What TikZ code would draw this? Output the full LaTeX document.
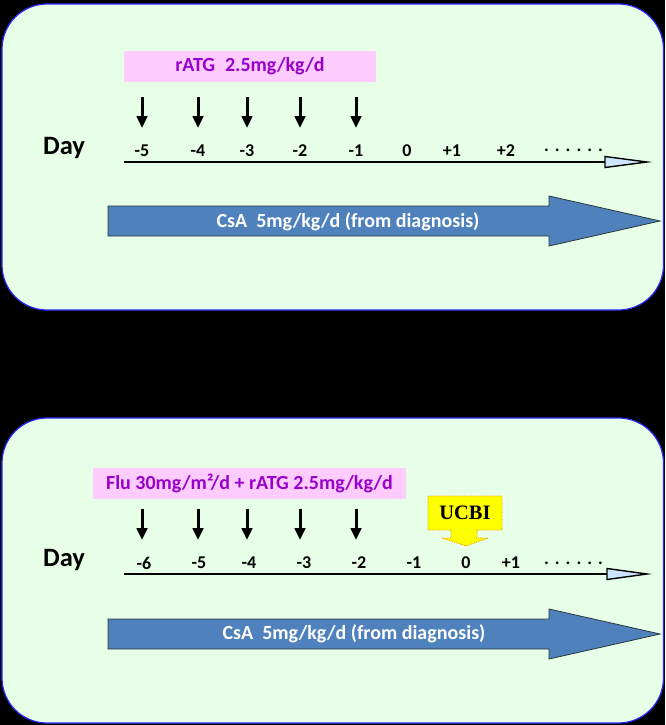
\documentclass[tikz,border=0pt]{standalone}
\usepackage{fontspec}
\setmainfont{Carlito}
\newfontfamily\ucbifont{Liberation Serif}
\usetikzlibrary{arrows.meta}
\definecolor{panelfill}{RGB}{230,255,230}
\definecolor{panelborder}{RGB}{40,40,255}
\definecolor{pinkbox}{RGB}{255,204,255}
\definecolor{purpletext}{RGB}{153,0,204}
\definecolor{csablue}{RGB}{79,129,189}
\definecolor{csaborder}{RGB}{45,55,65}
\definecolor{headblue}{RGB}{204,230,255}
\definecolor{ucbiyellow}{RGB}{255,255,0}
\definecolor{ucbiorange}{RGB}{255,140,0}
\tikzset{
  panel/.style={fill=panelfill,draw=panelborder,line width=1.2pt,rounded corners=45pt},
  dosebox/.style={fill=pinkbox,draw=none,inner sep=0pt,text=purpletext,font=\fontsize{20}{24}\selectfont\bfseries},
  daylabel/.style={font=\fontsize{26.5}{30}\selectfont\bfseries,inner sep=0pt},
  ticklabel/.style={font=\fontsize{18}{21}\selectfont\bfseries,inner sep=0pt},
  dotlabel/.style={font=\fontsize{18}{21}\selectfont\bfseries,inner sep=0pt,anchor=base},
  doseline/.style={line width=3pt,-{Triangle[length=12pt,width=10.5pt]}},
  timeline/.style={line width=2pt},
  timehead/.style={fill=headblue,draw=black,line width=1.4pt,line join=miter},
  csaarrow/.style={fill=csablue,draw=csaborder,line width=0.8pt},
  csatext/.style={text=white,font=\fontsize{20}{24}\selectfont\bfseries,inner sep=0pt},
  ucbishape/.style={fill=ucbiyellow,draw=ucbiorange,densely dotted,line width=0.8pt},
  ucbitext/.style={font=\ucbifont\fontsize{20.5}{24}\selectfont\bfseries,inner sep=0pt},
}
\newcommand{\sixdots}{.\kern6pt.\kern6pt.\kern6pt.\kern6pt.\kern6pt.}
\begin{document}
\begin{tikzpicture}[x=1pt,y=-1pt]
\fill[black] (0,0) rectangle (665,725);
\useasboundingbox (0,0) rectangle (665,725);

% ---------- Panel 1 ----------
\draw[panel] (2,4) rectangle (663.5,310);
\node[dosebox,minimum width=252pt,minimum height=31pt] (dose1) at (250,66.5) {rATG\hspace{10pt}2.5mg/kg/d};
\node[daylabel] (day1) at (64,148) {Day};
\foreach \x/\t [count=\i] in {142/-5,198/-4,247/-3,300/-2,356/-1,407/0,452/+1,506/+2}{
  \node[ticklabel] (ta\i) at (\x,150.5) {\t};
}
\node[dotlabel] (dotsa) at (573.5,151) {\sixdots};
\foreach \x [count=\i] in {142,198,247,300,356}{
  \coordinate (da\i s) at (\x,97);
  \coordinate (da\i e) at (\x,128);
  \draw[doseline] (da\i s) -- (da\i e);
}
\coordinate (tla) at (124,162);
\coordinate (tlab) at (605,162);
\draw[timeline] (tla) -- (tlab);
\draw[timehead] (605,156.5) -- (647,162) -- (605,167.5) -- cycle;
\draw[csaarrow] (108,206) -- (549,206) -- (549,196) -- (660,221) -- (549,246) -- (549,236) -- (108,236) -- cycle;
\node[csatext] (csa1) at (348,222) {CsA\ \ 5mg/kg/d (from diagnosis)};

% ---------- label ----------
\node[font=\fontsize{20}{22}\selectfont\bfseries,text=black] (lblB) at (43,383) {B};

% ---------- Panel 2 ----------
\draw[panel] (2,418) rectangle (663.5,723);
\node[dosebox,minimum width=313pt,minimum height=31pt] (dose2) at (249.5,483.5) {Flu 30mg/m²/d + rATG 2.5mg/kg/d};
\node[daylabel] (day2) at (64,560) {Day};
\foreach \x/\t [count=\i] in {144/-6,199/-5,249/-4,304/-3,359/-2,414/-1,466/0,511/+1}{
  \node[ticklabel] (tb\i) at (\x,563) {\t};
}
\node[dotlabel] (dotsb) at (573.5,564.5) {\sixdots};
\foreach \x [count=\i] in {142,198,247,300,356}{
  \coordinate (db\i s) at (\x,509);
  \coordinate (db\i e) at (\x,540);
  \draw[doseline] (db\i s) -- (db\i e);
}
\coordinate (tlb) at (124,574);
\coordinate (tlbb) at (607,574);
\draw[timeline] (tlb) -- (tlbb);
\draw[timehead] (607,568.5) -- (647,574) -- (607,579.5) -- cycle;
\draw[csaarrow] (108,619) -- (549,619) -- (549,609) -- (660,634) -- (549,659) -- (549,649) -- (108,649) -- cycle;
\node[csatext] (csa2) at (354,634) {CsA\ \ 5mg/kg/d (from diagnosis)};

\draw[ucbishape] (428,496) -- (502,496) -- (502,530) -- (477,530) -- (477,538) -- (488,538) -- (466,546) -- (442,538) -- (451,538) -- (451,530) -- (428,530) -- cycle;
\node[ucbitext] (ucbi) at (465,513) {UCBI};
\end{tikzpicture}
\end{document}
